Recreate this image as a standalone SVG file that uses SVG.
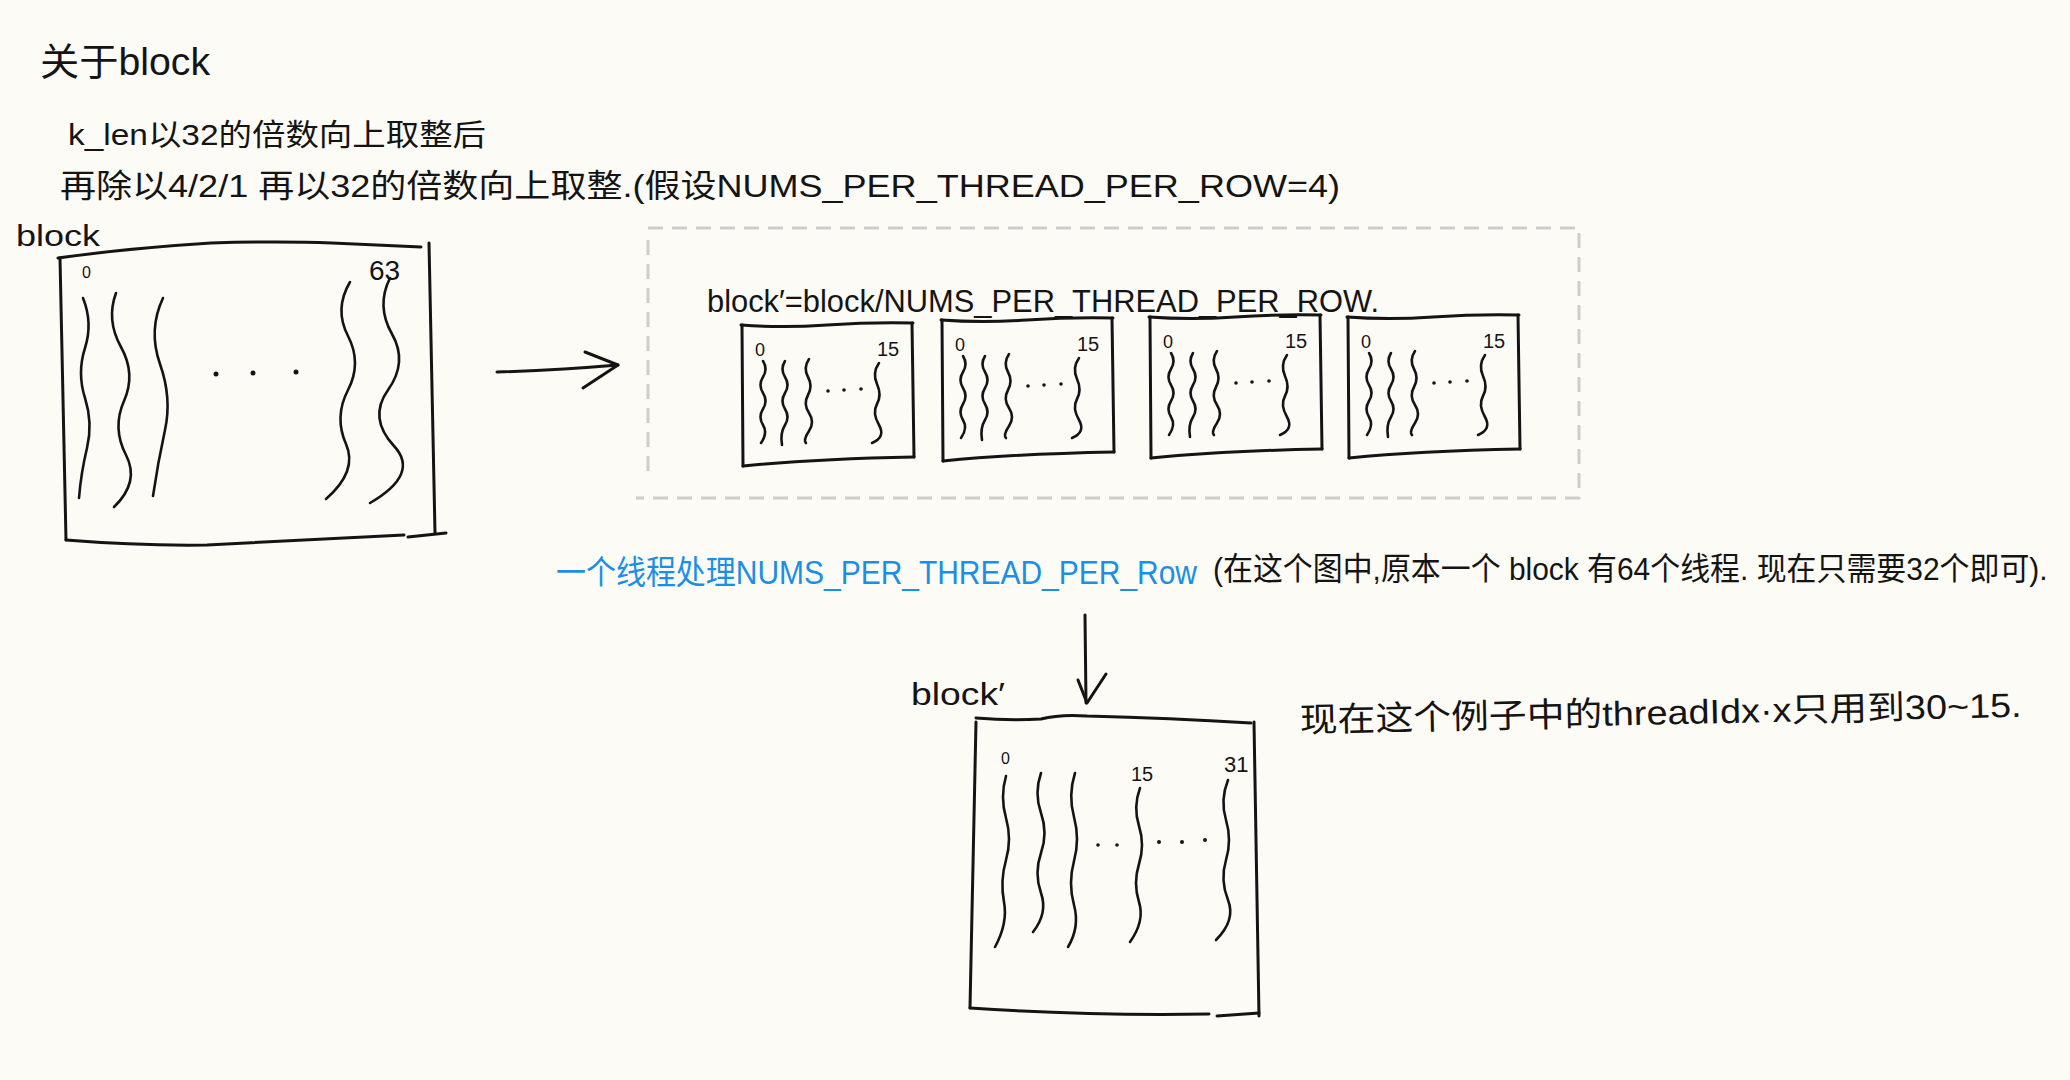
<svg xmlns="http://www.w3.org/2000/svg" xmlns:xlink="http://www.w3.org/1999/xlink" width="2070" height="1080" viewBox="0 0 2070 1080">
<style>
.ink{fill:none;stroke:#141414;stroke-width:3;stroke-linecap:round;stroke-linejoin:round}
.wave{fill:none;stroke:#141414;stroke-width:2.6;stroke-linecap:round}
.dash{fill:none;stroke:#cfcdc9;stroke-width:3;stroke-dasharray:15 9}
.t{font-family:"Liberation Sans","Noto Sans CJK SC",sans-serif;fill:#141414}
.blue{fill:#1b8fe6}
.dot{fill:#141414}
</style>
<defs>
<g id="sbox">
<path class="ink" d="M-1 2 Q40 5 85 2 T171 0"/>
<path class="ink" d="M0 2 L1 143"/>
<path class="ink" d="M170 0 L172 134"/>
<path class="ink" d="M1 143 Q70 136 172 134"/>
<text class="t" x="13" y="33" font-size="18">0</text>
<text class="t" x="135" y="33" font-size="20">15</text>
<path class="wave" d="M21 38 q5 8 0 16 t0 16 t0 16 t0 16 t-2 18"/>
<path class="wave" d="M43 38 q-5 8 0 16 t0 16 t0 16 t0 16 t-3 20"/>
<path class="wave" d="M67 36 q-6 9 -1 18 t0 18 t1 18 t0 18 t-3 12"/>
<circle class="dot" cx="86" cy="68" r="1.8"/>
<circle class="dot" cx="102" cy="67" r="1.8"/>
<circle class="dot" cx="119" cy="66" r="1.8"/>
<path class="wave" d="M137 40 q-7 10 -2 21 t0 20 t2 21 t-7 18"/>
</g>
</defs>
<rect width="2070" height="1080" fill="#fdfbf6"/>

<g id="texts">
<text class="t" x="40" y="75" font-size="38" textLength="170" lengthAdjust="spacingAndGlyphs">关于block</text>
<text class="t" x="68" y="145" font-size="30" textLength="418" lengthAdjust="spacingAndGlyphs">k_len以32的倍数向上取整后</text>
<text class="t" x="60" y="197" font-size="32" textLength="1280" lengthAdjust="spacingAndGlyphs">再除以4/2/1 再以32的倍数向上取整.(假设NUMS_PER_THREAD_PER_ROW=4)</text>
</g>

<g id="block">
<text class="t" x="16" y="246" font-size="30" textLength="84" lengthAdjust="spacingAndGlyphs">block</text>
<path class="ink" d="M58 258 Q130 248 211 243 Q280 241 332 243 Q380 245 421 247"/>
<path class="ink" d="M60 258 L66 540"/>
<path class="ink" d="M429 243 L435 533"/>
<path class="ink" d="M66 540 Q140 546 207 545 Q300 540 404 535"/>
<path class="ink" d="M408 537 L446 533"/>
<text class="t" x="82" y="278" font-size="16">0</text>
<text class="t" x="369" y="280" font-size="28">63</text>
<path class="wave" d="M83 298 q10 25 2 50 t0 50 t2 50 t-8 50"/>
<path class="wave" d="M116 293 q-10 27 5 54 t3 54 t2 54 t-12 52"/>
<path class="wave" d="M163 298 q-15 32 -3 66 t5 66 t-12 66"/>
<path class="wave" d="M350 282 q-16 27 -2 54 t0 54 t-2 54 t-20 55"/>
<path class="wave" d="M390 278 q-14 28 2 56 t-4 56 t6 56 t-24 57"/>
<circle class="dot" cx="216" cy="374" r="2.5"/>
<circle class="dot" cx="253" cy="373" r="2.5"/>
<circle class="dot" cx="296" cy="372" r="2.5"/>
</g>

<g id="split">
<path class="dash" d="M648 228 H1579 V498 H636"/>
<path class="dash" d="M648 240 V480"/>
<text class="t" x="707" y="312" font-size="32" textLength="672" lengthAdjust="spacingAndGlyphs">block′=block/NUMS_PER_THREAD_PER_ROW.</text>
<use xlink:href="#sbox" href="#sbox" transform="translate(742,323)"/>
<use xlink:href="#sbox" href="#sbox" transform="translate(942,318)"/>
<use xlink:href="#sbox" href="#sbox" transform="translate(1150,315)"/>
<use xlink:href="#sbox" href="#sbox" transform="translate(1348,315)"/>
</g>

<g id="note">
<text class="t blue" x="556" y="584" font-size="33" textLength="641" lengthAdjust="spacingAndGlyphs">一个线程处理NUMS_PER_THREAD_PER_Row</text>
<text class="t" transform="translate(1213,580) scale(0.78,1)" x="0" y="0" font-size="32" textLength="1070" lengthAdjust="spacingAndGlyphs">(在这个图中,原本一个 block 有64个线程. 现在只需要32个即可).</text>
</g>

<g id="block2">
<text class="t" x="911" y="705" font-size="32" textLength="94" lengthAdjust="spacingAndGlyphs">block′</text>
<path class="ink" d="M976 718 Q1010 721 1041 719 Q1060 714 1087 716 Q1170 718 1251 723"/>
<path class="ink" d="M976 722 L970 1008"/>
<path class="ink" d="M1254 722 L1259 1016"/>
<path class="ink" d="M970 1008 Q1090 1016 1209 1014"/>
<path class="ink" d="M1217 1016 L1259 1013"/>
<text class="t" x="1001" y="764" font-size="16">0</text>
<text class="t" x="1131" y="781" font-size="20">15</text>
<text class="t" x="1224" y="772" font-size="22">31</text>
<path class="wave" d="M1006 776 q-6 21 0 42 t0 42 t-2 42 t-9 45"/>
<path class="wave" d="M1041 773 q-7 20 0 40 t0 40 t0 40 t-8 39"/>
<path class="wave" d="M1075 773 q-7 22 -1 44 t0 44 t0 44 t-6 42"/>
<path class="wave" d="M1140 788 q-7 19 -1 38 t0 38 t0 38 t-9 40"/>
<path class="wave" d="M1228 780 q-8 20 -2 40 t0 40 t2 40 t-12 40"/>
<circle class="dot" cx="1098" cy="845" r="1.8"/>
<circle class="dot" cx="1117" cy="845" r="1.8"/>
<circle class="dot" cx="1159" cy="842" r="2"/>
<circle class="dot" cx="1182" cy="842" r="2"/>
<circle class="dot" cx="1205" cy="840" r="2"/>
<text class="t" x="1300" y="732" font-size="34" textLength="722" lengthAdjust="spacingAndGlyphs" transform="rotate(-1.2 1300 732)">现在这个例子中的threadIdx·x只用到30~15.</text>
</g>

<g id="connectors">
<path class="ink" d="M497 372 Q560 370 618 365"/>
<path class="ink" d="M585 352 L618 365 L583 388"/>
<path class="ink" d="M1085 615 L1086 703"/>
<path class="ink" d="M1078 680 L1087 703 L1106 674"/>
</g>
</svg>
